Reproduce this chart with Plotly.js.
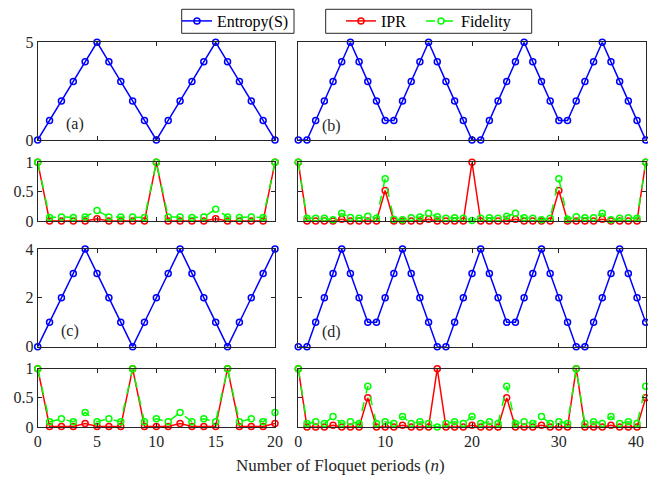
<!DOCTYPE html>
<html><head><meta charset="utf-8">
<script src="https://cdn.plot.ly/plotly-3.0.1.min.js"></script>
<style>html,body{margin:0;padding:0;background:#fff}</style>
</head><body><div id="chart" style="width:648px;height:481px"></div>
<script>
const x20 = [0,1,2,3,4,5,6,7,8,9,10,11,12,13,14,15,16,17,18,19,20];
const x40 = [0,1,2,3,4,5,6,7,8,9,10,11,12,13,14,15,16,17,18,19,20,21,22,23,24,25,26,27,28,29,30,31,32,33,34,35,36,37,38,39,40];

const S_a   = [0,1,2,3,4,5,4,3,2,1,0,1,2,3,4,5,4,3,2,1,0];
const IPR_a = [1,0,0,0,0,0.04,0,0,0,0,1,0,0,0,0,0.04,0,0,0,0,1];
const Fid_a = [1,0.06,0.07,0.06,0.07,0.18,0.07,0.07,0.07,0.06,1,0.07,0.07,0.06,0.07,0.2,0.07,0.06,0.07,0.06,1];

const S_b   = [0,0,1,2,3,4,5,4,3,2,1,1,2,3,4,5,4,3,2,1,0,0,1,2,3,4,5,4,3,2,1,1,2,3,4,5,4,3,2,1,0];
const IPR_b = [1,0,0,0,0,0.03,0,0,0,0,0.52,0,0,0,0,0.03,0,0,0,0,1,0,0,0,0,0.03,0,0,0,0,0.52,0,0,0,0,0.03,0,0,0,0,1];
const Fid_b = [1,0.045,0.045,0.045,0.02,0.13,0.06,0.045,0.08,0.045,0.72,0.03,0.02,0.057,0.07,0.13,0.074,0.045,0.057,0.045,0.01,0.045,0.057,0.045,0.08,0.13,0.057,0.045,0.02,0.045,0.72,0.03,0.074,0.057,0.057,0.13,0.02,0.045,0.057,0.045,1];

const S_c   = [0,1,2,3,4,3,2,1,0,1,2,3,4,3,2,1,0,1,2,3,4];
const IPR_c = [1,0.01,0.01,0.01,0.06,0.01,0.01,0.01,1,0.01,0.01,0.01,0.06,0.01,0.01,0.01,1,0.01,0.01,0.01,0.06];
const Fid_c = [1,0.09,0.14,0.09,0.25,0.09,0.14,0.09,1,0.09,0.14,0.09,0.25,0.09,0.14,0.09,1,0.09,0.14,0.09,0.25];

const S_d   = [0,0,1,2,3,4,3,2,1,1,2,3,4,3,2,1,0,0,1,2,3,4,3,2,1,1,2,3,4,3,2,1,0,0,1,2,3,4,3,2,1];
const IPR_d = [1,0,0,0,0.03,0,0,0,0.5,0,0,0,0.03,0,0,0,1,0,0,0,0.03,0,0,0,0.5,0,0,0,0.03,0,0,0,1,0,0,0,0.03,0,0,0,0.5];
const Fid_d = [1,0.06,0.09,0.06,0.18,0.06,0.09,0.06,0.7,0.06,0.09,0.06,0.18,0.06,0.09,0.06,0,0.06,0.09,0.06,0.18,0.06,0.09,0.06,0.7,0.06,0.09,0.06,0.18,0.06,0.09,0.06,1,0.06,0.09,0.06,0.18,0.06,0.09,0.06,0.7];

const xLeftTicks = [0,5,10,15,20];
const xRightTicks = [0,10,20,30,40];
const xRightTickText = ['0','10','20','30',''];
const lastRightTick = '40';
const panelLabels = ['(a)','(b)','(c)','(d)'];

const BLUE='#0000ff', RED='#ff0000', GREEN='#00ff00';
const mk = c => ({symbol:'circle-open', size:6, color:c, line:{width:1.5, color:c}});

function ent(x,y,xa,ya,show){
  return {x:x,y:y,xaxis:xa,yaxis:ya,mode:'lines+markers',name:'Entropy(S)',legend:'legend',
    showlegend:show,cliponaxis:false,line:{color:BLUE,width:1.5},marker:mk(BLUE)};
}
function ipr(x,y,xa,ya,show){
  return {x:x,y:y,xaxis:xa,yaxis:ya,mode:'lines+markers',name:'IPR',legend:'legend2',
    showlegend:show,cliponaxis:false,line:{color:RED,width:1.5},marker:mk(RED)};
}
function fid(x,y,xa,ya,show){
  return {x:x,y:y,xaxis:xa,yaxis:ya,mode:'lines+markers',name:'Fidelity',legend:'legend3',
    showlegend:show,cliponaxis:false,line:{color:GREEN,width:1.5,dash:'dash'},marker:mk(GREEN)};
}

const data = [
  ent(x20,S_a,'x','y',true),
  ent(x40,S_b,'x2','y2',false),
  ipr(x20,IPR_a,'x3','y3',true), fid(x20,Fid_a,'x3','y3',true),
  ipr(x40,IPR_b,'x4','y4',false), fid(x40,Fid_b,'x4','y4',false),
  ent(x20,S_c,'x5','y5',false),
  ent(x40,S_d,'x6','y6',false),
  ipr(x20,IPR_c,'x7','y7',false), fid(x20,Fid_c,'x7','y7',false),
  ipr(x40,IPR_d,'x8','y8',false), fid(x40,Fid_d,'x8','y8',false)
];

const FAM = '"Liberation Serif", "Times New Roman", serif';
const FONT = {family:FAM, size:16, color:'#262626'};
const LFONT = {family:FAM, size:16, color:'#000'};
const W=648, H=481;
const colL=[37.7/W, 275/W], colR=[298.3/W, 645.7/W];
const rows=[[1-140/H,1-42.3/H],[1-221/H,1-162.3/H],[1-346.7/H,1-249/H],[1-427/H,1-368.7/H]];

function ax(dom, anchor, range, ticks, showLabels, ticktext){
  const a = {domain:dom, anchor:anchor, range:range, tickvals:ticks, showticklabels:showLabels,
    ticks:'inside', ticklen:4, tickcolor:'#262626', mirror:'ticks', showline:true, linecolor:'#262626',
    linewidth:1, showgrid:false, zeroline:false, tickfont:FONT, fixedrange:true,
    ticklabeloverflow:'allow'};
  if (ticktext) a.ticktext = ticktext;
  return a;
}

const legBase = {yanchor:'middle', xanchor:'left', orientation:'h', borderwidth:0,
  bgcolor:'rgba(0,0,0,0)', font:LFONT, y:1-21/H};

const layout = {
  width:W, height:H, margin:{l:0,r:0,t:0,b:0}, paper_bgcolor:'#fff', plot_bgcolor:'#fff',
  font:FONT,
  xaxis: ax(colL,'y',[0,20],xLeftTicks,false),
  yaxis: ax(rows[0],'x',[0,5],[0,5],true),
  xaxis2: ax(colR,'y2',[0,40],xRightTicks,false),
  yaxis2: ax(rows[0],'x2',[0,5],[0,5],false),
  xaxis3: ax(colL,'y3',[0,20],xLeftTicks,false),
  yaxis3: ax(rows[1],'x3',[0,1],[0,0.5,1],true),
  xaxis4: ax(colR,'y4',[0,40],xRightTicks,false),
  yaxis4: ax(rows[1],'x4',[0,1],[0,0.5,1],false),
  xaxis5: ax(colL,'y5',[0,20],xLeftTicks,false),
  yaxis5: ax(rows[2],'x5',[0,4],[0,2,4],true),
  xaxis6: ax(colR,'y6',[0,40],xRightTicks,false),
  yaxis6: ax(rows[2],'x6',[0,4],[0,2,4],false),
  xaxis7: ax(colL,'y7',[0,20],xLeftTicks,true),
  yaxis7: ax(rows[3],'x7',[0,1],[0,0.5,1],true),
  xaxis8: ax(colR,'y8',[0,40],xRightTicks,true,xRightTickText),
  yaxis8: ax(rows[3],'x8',[0,1],[0,0.5,1],false),
  legend: Object.assign({}, legBase, {x:177/W}),
  legend2: Object.assign({}, legBase, {x:341/W}),
  legend3: Object.assign({}, legBase, {x:421/W}),
  shapes: [
    {type:'rect', xref:'paper', yref:'paper', x0:181.7/W, x1:294/W, y0:1-33.3/H, y1:1-9.3/H,
      line:{color:'#262626', width:1}, fillcolor:'#fff', layer:'below'},
    {type:'rect', xref:'paper', yref:'paper', x0:325.7/W, x1:531.7/W, y0:1-33.3/H, y1:1-9.3/H,
      line:{color:'#262626', width:1}, fillcolor:'#fff', layer:'below'}
  ],
  annotations: [
    {text:'Number of Floquet periods (<i>n</i>)', xref:'paper', yref:'paper', x:340/W, y:1-465/H,
      xanchor:'center', yanchor:'middle', showarrow:false, font:{family:FAM,size:17,color:'#262626'}},
    {text:lastRightTick, xref:'paper', yref:'paper', x:646/W, y:1-441/H,
      xanchor:'right', yanchor:'middle', showarrow:false, font:FONT},
    {text:panelLabels[0], xref:'x domain', yref:'y domain', x:0.157, y:0.163, xanchor:'center', yanchor:'middle', showarrow:false, font:FONT},
    {text:panelLabels[1], xref:'x2 domain', yref:'y2 domain', x:0.096, y:0.145, xanchor:'center', yanchor:'middle', showarrow:false, font:FONT},
    {text:panelLabels[2], xref:'x5 domain', yref:'y5 domain', x:0.136, y:0.16, xanchor:'center', yanchor:'middle', showarrow:false, font:FONT},
    {text:panelLabels[3], xref:'x6 domain', yref:'y6 domain', x:0.096, y:0.147, xanchor:'center', yanchor:'middle', showarrow:false, font:FONT}
  ]
};

Plotly.newPlot('chart', data, layout, {staticPlot:true, displayModeBar:false});
</script></body></html>
